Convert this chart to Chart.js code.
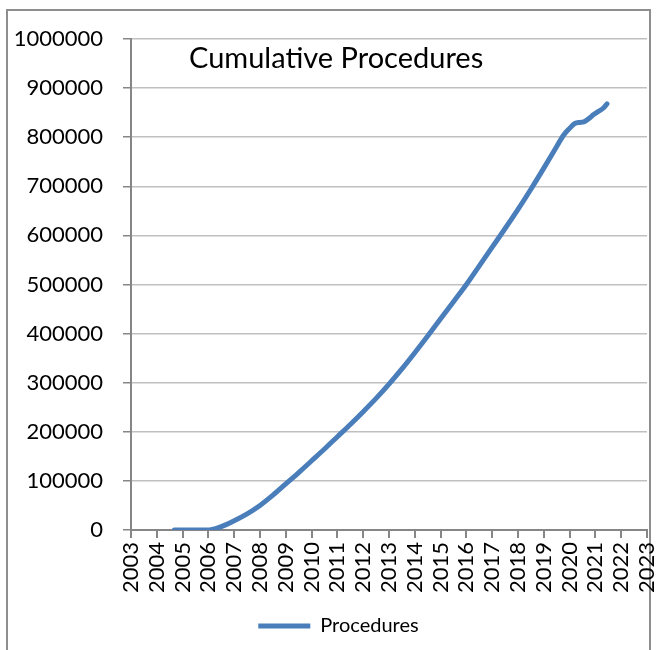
<!DOCTYPE html>
<html>
<head>
<meta charset="utf-8">
<title>Cumulative Procedures</title>
<script src="https://cdn.jsdelivr.net/npm/chart.js@4.4.0/dist/chart.umd.min.js"></script>
<style>
    body { margin: 0; background: #fff; }
    #frame { position: absolute; left: 6px; top: 9px; width: 641px; height: 660px; border: 2px solid #8e8e8e; }
    #wrap { position: absolute; left: 0; top: 0; width: 656px; height: 650px; }
</style>
</head>
<body>
<div id="frame"></div>
<div id="wrap"><canvas id="procChart"></canvas></div>
<script>
// values
const titleText = 'Cumulative Procedures';
const seriesName = 'Procedures';

const years = [2004.68, 2005, 2005.5, 2006, 2006.1, 2006.5, 2007, 2007.5, 2008, 2008.5,
    2009, 2009.5, 2010, 2010.5, 2011, 2011.5, 2012, 2012.5, 2013, 2013.5,
    2014, 2014.5, 2015, 2015.5, 2016, 2016.5, 2017, 2017.5, 2018, 2018.5,
    2019, 2019.5, 2019.75, 2020, 2020.2, 2020.4, 2020.55, 2020.75, 2020.93, 2021.1,
    2021.3, 2021.45];
const procedures = [0, 0, 0, 0, 500, 7000, 19000, 33000, 50000, 71000,
    94000, 117000, 141000, 165000, 190000, 215000, 241000, 268000, 297000, 328000,
    361000, 395000, 430000, 465000, 500000, 538000, 576000, 614000, 653000, 694000,
    737000, 781000, 803000, 818000, 828000, 830000, 831000, 838000, 846000, 852000,
    859000, 868000];

const yearMin = 2003;
const yearMax = 2023;
const yMax = 1000000;
const yStep = 100000;

const points = years.map((yr, i) => ({ x: yr, y: procedures[i] }));

//draws the title inside the plot, like the original
const insideTitle = {
    id: 'insideTitle',
    afterDraw(chart) {
        const ctx = chart.ctx;
        const area = chart.chartArea;
        ctx.save();
        ctx.font = '29px Lato';
        ctx.fillStyle = '#000';
        ctx.textBaseline = 'alphabetic';
        ctx.textAlign = 'left';
        ctx.fillText(titleText, area.left + 58, area.top + 29);
        ctx.restore();
    }
};

//legend sits a bit right of centre in the original
const legendShift = {
    id: 'legendShift',
    afterLayout(chart) {
        if (chart.legend) {
            chart.legend.left += 30;
        }
    }
};

const axisGray = '#868686';

const config = {
    type: 'line',
    data: {
        datasets: [{
            label: seriesName,
            data: points,
            borderColor: '#4a7ebb',
            backgroundColor: '#4a7ebb',
            borderWidth: 5,
            borderCapStyle: 'round',
            borderJoinStyle: 'round',
            pointRadius: 0,
            pointStyle: 'line',
            cubicInterpolationMode: 'monotone',
            fill: false
        }]
    },
    options: {
        responsive: true,
        maintainAspectRatio: false,
        animation: false,
        layout: {
            padding: { left: 0, right: 9, top: 39, bottom: 4 }
        },
        plugins: {
            legend: {
                position: 'bottom',
                labels: {
                    usePointStyle: true,
                    pointStyleWidth: 52,
                    boxWidth: 52,
                    color: '#000',
                    font: { family: 'Lato', size: 20 },
                    padding: 10
                }
            },
            title: { display: false },
            tooltip: { enabled: false }
        },
        scales: {
            x: {
                type: 'linear',
                min: yearMin,
                max: yearMax,
                afterFit: function (scale) {
                    scale.height = 76;
                    scale.paddingLeft = 0;
                    scale.paddingRight = 0;
                },
                ticks: {
                    stepSize: 1,
                    autoSkip: false,
                    minRotation: 90,
                    maxRotation: 90,
                    padding: 4,
                    color: '#000',
                    font: { family: 'Lato', size: 22 },
                    callback: v => String(v)
                },
                grid: {
                    drawOnChartArea: false,
                    drawTicks: true,
                    tickLength: 8,
                    tickColor: axisGray,
                    lineWidth: 2
                },
                border: { color: axisGray, width: 2 }
            },
            y: {
                min: 0,
                max: yMax,
                afterFit: function (scale) { scale.width = 131; },
                ticks: {
                    stepSize: yStep,
                    padding: 20,
                    color: '#000',
                    font: { family: 'Lato', size: 22 },
                    callback: v => String(v)
                },
                grid: {
                    color: '#c0c0c0',
                    lineWidth: 1.5,
                    tickLength: 8,
                    tickColor: axisGray
                },
                border: { color: axisGray, width: 2 }
            }
        }
    },
    plugins: [insideTitle, legendShift]
};

new Chart(document.getElementById('procChart'), config);
</script>
</body>
</html>
